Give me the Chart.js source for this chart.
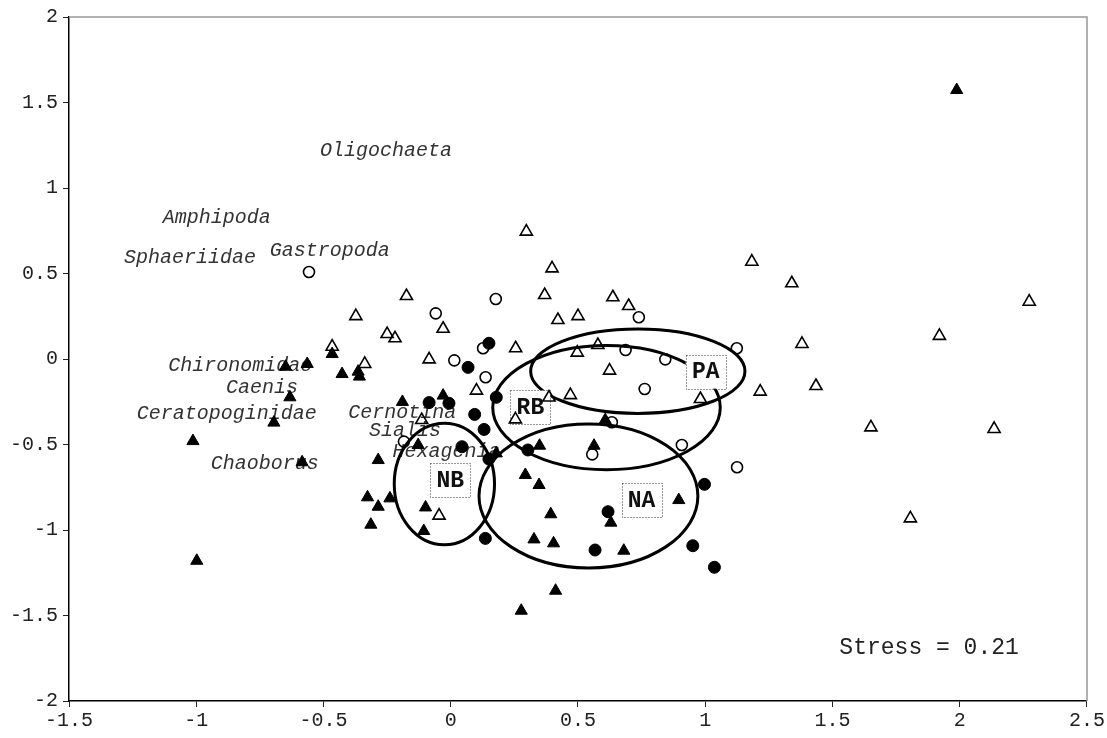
<!DOCTYPE html>
<html>
<head>
<meta charset="utf-8">
<script src="https://cdn.jsdelivr.net/npm/chart.js@4/dist/chart.umd.min.js"></script>
<style>
  html, body { margin: 0; padding: 0; background: #fff; }
  #wrap { width: 1107px; height: 738px; }
</style>
</head>
<body>
<div id="wrap"><canvas id="c" width="1107" height="738"></canvas></div>
<script>
// Axis ticks
const xTicks = [-1.5, -1, -0.5, 0, 0.5, 1, 1.5, 2, 2.5];
const yTicks = [-2, -1.5, -1, -0.5, 0, 0.5, 1, 1.5, 2];

// Site scores, filled triangles
const filledTriX = [1.988, -0.466, -0.564, -0.649, -0.427, -0.364, -0.359, -0.632, -0.695, -1.013,
  -0.584, -0.285, -0.190, -0.030, -0.128, -0.998, -0.327, -0.285, -0.239, -0.314,
  -0.099, -0.106, 0.179, 0.293, 0.607, 0.349, 0.563, 0.896, 0.347, 0.393,
  0.629, 0.327, 0.404, 0.680, 0.412, 0.277];
const filledTriY = [1.573, 0.029, -0.029, -0.045, -0.088, -0.074, -0.103, -0.224, -0.372, -0.480,
  -0.604, -0.591, -0.251, -0.214, -0.503, -1.180, -0.809, -0.864, -0.815, -0.969,
  -0.868, -1.006, -0.552, -0.678, -0.357, -0.507, -0.507, -0.825, -0.737, -0.908,
  -0.957, -1.055, -1.078, -1.121, -1.355, -1.472];

// Site scores, open triangles
const openTriX = [-0.174, -0.030, -0.373, -0.250, -0.219, -0.466, -0.338, -0.085, -0.114, 0.101,
  0.254, -0.046, 0.369, 0.637, 0.421, 0.500, 0.255, 0.386, 0.470, 0.497,
  0.578, 0.624, 0.297, 0.398, 1.183, 0.699, 0.981, 1.216, 1.340, 2.273,
  1.920, 1.380, 1.435, 1.651, 2.135, 1.806];
const openTriY = [0.368, 0.177, 0.251, 0.146, 0.121, 0.072, -0.029, -0.002, -0.357, -0.185,
  -0.353, -0.916, 0.374, 0.361, 0.228, 0.251, 0.063, -0.225, -0.211, 0.037,
  0.082, -0.068, 0.745, 0.530, 0.569, 0.310, -0.234, -0.191, 0.443, 0.335,
  0.135, 0.088, -0.158, -0.400, -0.409, -0.932];

// Site scores, filled circles
const filledCircX = [-0.085, -0.007, 0.179, 0.094, 0.131, 0.044, 0.150, 0.303, 0.150, 0.068,
  0.997, 0.618, 0.567, 0.951, 1.036, 0.136];
const filledCircY = [-0.255, -0.259, -0.224, -0.324, -0.412, -0.513, -0.585, -0.532, 0.092, -0.049,
  -0.733, -0.893, -1.117, -1.092, -1.218, -1.049];

// Site scores, open circles
const openCircX = [-0.557, -0.059, 0.014, -0.184, 0.633, 0.556, 0.908, 1.125, 0.177, 0.127,
  0.137, 0.739, 0.687, 0.843, 1.124, 0.762];
const openCircY = [0.509, 0.267, -0.008, -0.483, -0.370, -0.558, -0.503, -0.633, 0.351, 0.063,
  -0.107, 0.244, 0.053, -0.002, 0.063, -0.175];

// Group ellipses (centre and semi-axes in axis units) and their labels
const groupNames = ['PA', 'RB', 'NA', 'NB'];
const ellipseCX = [0.735, 0.612, 0.541, -0.025];
const ellipseCY = [-0.071, -0.284, -0.801, -0.731];
const ellipseRX = [0.421, 0.447, 0.430, 0.197];
const ellipseRY = [0.247, 0.363, 0.421, 0.355];
const groupLabelX = [1.002, 0.313, 0.750, -0.002];
const groupLabelY = [-0.074, -0.283, -0.826, -0.709];

// Taxon labels (left edge, vertical centre)
const taxa = ['Oligochaeta', 'Amphipoda', 'Gastropoda', 'Sphaeriidae', 'Chironomidae', 'Caenis',
  'Ceratopoginidae', 'Chaoborus', 'Cernotina', 'Sialis', 'Hexagenia'];
const taxaX = [-0.514, -1.132, -0.711, -1.284, -1.110, -0.883, -1.234, -0.943, -0.403, -0.321, -0.229];
const taxaY = [1.216, 0.829, 0.632, 0.592, -0.039, -0.165, -0.318, -0.610, -0.312, -0.419, -0.542];

const stressText = 'Stress = 0.21';
const stressX = 1.527, stressY = -1.690;

const pts = (xs, ys) => xs.map((x, i) => ({ x: x, y: ys[i] }));
const MONO = '"Liberation Mono", "Courier New", monospace';

const annotations = {
  id: 'annotations',
  beforeDatasetsDraw(chart) {
    const { ctx, scales: { x, y }, chartArea: a } = chart;
    ctx.save();
    // frame top and right
    ctx.strokeStyle = '#999';
    ctx.lineWidth = 1.5;
    ctx.beginPath();
    ctx.moveTo(a.left, a.top); ctx.lineTo(a.right, a.top); ctx.lineTo(a.right, a.bottom);
    ctx.stroke();

    // taxon names
    ctx.font = 'italic 20px ' + MONO;
    ctx.fillStyle = '#333';
    ctx.textAlign = 'left';
    ctx.textBaseline = 'middle';
    taxa.forEach((t, i) => ctx.fillText(t, x.getPixelForValue(taxaX[i]), y.getPixelForValue(taxaY[i])));

    // ellipses
    ctx.strokeStyle = '#000';
    ctx.lineWidth = 3;
    groupNames.forEach((g, i) => {
      const cx = x.getPixelForValue(ellipseCX[i]);
      const cy = y.getPixelForValue(ellipseCY[i]);
      const rx = Math.abs(x.getPixelForValue(ellipseCX[i] + ellipseRX[i]) - cx);
      const ry = Math.abs(y.getPixelForValue(ellipseCY[i] + ellipseRY[i]) - cy);
      ctx.beginPath();
      ctx.ellipse(cx, cy, rx, ry, 0, 0, Math.PI * 2);
      ctx.stroke();
    });

    // group label boxes
    ctx.font = 'bold 23px ' + MONO;
    ctx.textAlign = 'center';
    groupNames.forEach((g, i) => {
      const cx = x.getPixelForValue(groupLabelX[i]);
      const cy = y.getPixelForValue(groupLabelY[i]);
      const w = 40, h = 34;
      ctx.fillStyle = '#fff';
      ctx.fillRect(cx - w / 2, cy - h / 2, w, h);
      ctx.setLineDash([1, 2]);
      ctx.lineWidth = 1;
      ctx.strokeStyle = '#333';
      ctx.strokeRect(Math.round(cx - w / 2) + 0.5, Math.round(cy - h / 2) + 0.5, w, h);
      ctx.setLineDash([]);
      ctx.fillStyle = '#111';
      ctx.fillText(g, cx, cy + 1);
    });

    // stress value
    ctx.font = '23px ' + MONO;
    ctx.fillStyle = '#222';
    ctx.textAlign = 'left';
    ctx.fillText(stressText, x.getPixelForValue(stressX), y.getPixelForValue(stressY));
    ctx.restore();
  }
};

const tickFont = { family: MONO, size: 20 };

new Chart(document.getElementById('c'), {
  type: 'scatter',
  data: {
    datasets: [
      { label: 'filled circles', data: pts(filledCircX, filledCircY), pointStyle: 'circle',
        pointRadius: 6, borderWidth: 1, backgroundColor: '#000', borderColor: '#000' },
      { label: 'filled triangles', data: pts(filledTriX, filledTriY), pointStyle: 'triangle',
        pointRadius: 7, borderWidth: 1, backgroundColor: '#000', borderColor: '#000' },
      { label: 'open circles', data: pts(openCircX, openCircY), pointStyle: 'circle',
        pointRadius: 5.5, borderWidth: 1.6, backgroundColor: 'rgba(255,255,255,0)', borderColor: '#000' },
      { label: 'open triangles', data: pts(openTriX, openTriY), pointStyle: 'triangle',
        pointRadius: 7, borderWidth: 1.6, backgroundColor: 'rgba(255,255,255,0)', borderColor: '#000' }
    ]
  },
  options: {
    responsive: false,
    animation: false,
    devicePixelRatio: 1,
    layout: { padding: { left: 0, top: 17, right: 19, bottom: 0 } },
    plugins: { legend: { display: false }, tooltip: { enabled: false } },
    events: [],
    scales: {
      x: {
        type: 'linear', position: 'bottom', min: -1.5, max: 2.5,
        afterBuildTicks: s => { s.ticks = xTicks.map(v => ({ value: v })); },
        afterFit: s => { s.height = 37; },
        ticks: { font: tickFont, color: '#222', padding: 2, maxRotation: 0, autoSkip: false,
          callback: v => String(v) },
        grid: { drawOnChartArea: false, drawTicks: true, tickLength: 6, color: '#222', lineWidth: 1 },
        border: { display: true, color: '#000', width: 1.5 }
      },
      y: {
        type: 'linear', position: 'left', min: -2, max: 2,
        afterBuildTicks: s => { s.ticks = yTicks.map(v => ({ value: v })); },
        afterFit: s => { s.width = 69; },
        ticks: { font: tickFont, color: '#222', padding: 5, autoSkip: false,
          callback: v => String(v) },
        grid: { drawOnChartArea: false, drawTicks: true, tickLength: 6, color: '#222', lineWidth: 1 },
        border: { display: true, color: '#000', width: 1.5 }
      }
    }
  },
  plugins: [annotations]
});
</script>
</body>
</html>
